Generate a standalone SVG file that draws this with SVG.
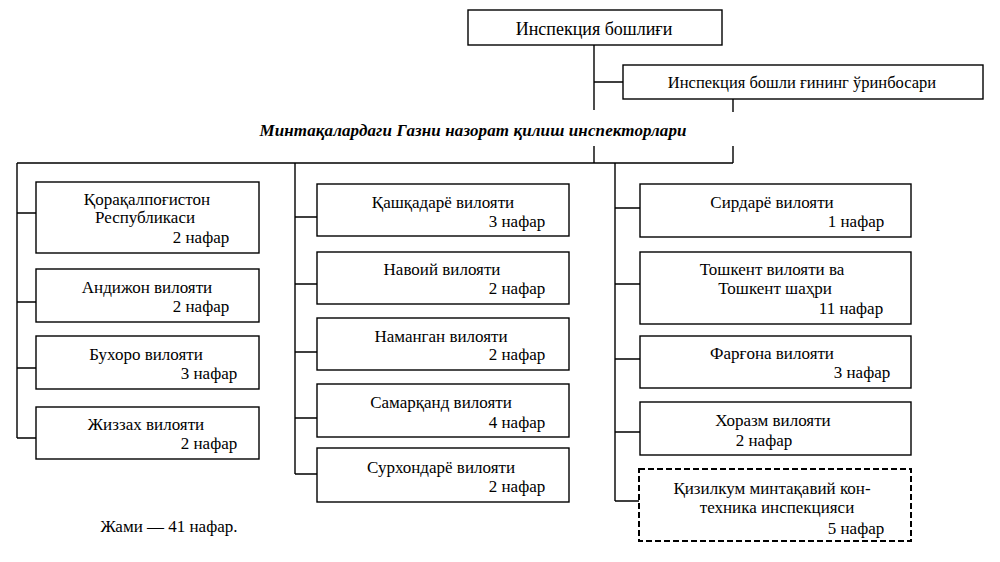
<svg xmlns="http://www.w3.org/2000/svg" width="1000" height="562" viewBox="0 0 1000 562">
<defs>
<style>
.box{fill:#fff;stroke:#000;stroke-width:1.4}
.dash{fill:#fff;stroke:#000;stroke-width:2;stroke-dasharray:6,3}
.ln{fill:none;stroke:#000;stroke-width:1.4}
</style>
</defs>
<rect width="1000" height="562" fill="#fff"/>
<g id="connectors">
<path class="ln" d="M594,45V110M594,146V163M594,82H623M733,99V112M733,146V163M17,163H733"/>
<path class="ln" d="M17,163V438M17,213H36M17,302H36M17,368H36M17,438H36"/>
<path class="ln" d="M295,163V474M295,217H317M295,284H317M295,352H317M295,418H317M295,474H317"/>
<path class="ln" d="M615,163V501M615,208H640M615,284H640M615,359H640M615,432H640M615,501H639"/>
</g>
<g font-family="'Liberation Serif', serif" font-size="17" text-anchor="middle" fill="#000">
<g id="head"><rect class="box" x="468" y="10" width="254" height="35"/><text x="594" y="35" font-size="18">Инспекция бошлиғи</text></g>
<g id="deputy"><rect class="box" x="623" y="65" width="360" height="34"/><text x="802" y="88" font-size="16.5">Инспекция бошли ғининг ўринбосари</text></g>
<g id="label"><text x="473" y="136" font-weight="bold" font-style="italic" textLength="427" lengthAdjust="spacing">Минтақалардаги Газни назорат қилиш инспекторлари</text></g>
<g id="qoraqalpoq"><rect class="box" x="36" y="182" width="223" height="71"/><text x="147" y="205">Қорақалпоғистон</text><text x="145" y="223">Республикаси</text><text x="201" y="243">2 нафар</text></g>
<g id="andijon"><rect class="box" x="36" y="269" width="223" height="53"/><text x="147" y="293">Андижон вилояти</text><text x="201" y="312">2 нафар</text></g>
<g id="buxoro"><rect class="box" x="36" y="336" width="223" height="53"/><text x="146" y="360">Бухоро вилояти</text><text x="209" y="379">3 нафар</text></g>
<g id="jizzax"><rect class="box" x="36" y="407" width="223" height="52"/><text x="146" y="430">Жиззах вилояти</text><text x="209" y="449">2 нафар</text></g>
<g id="qashqadaryo"><rect class="box" x="317" y="184" width="252" height="52"/><text x="443" y="208">Қашқадарё вилояти</text><text x="517" y="227">3 нафар</text></g>
<g id="navoiy"><rect class="box" x="317" y="252" width="252" height="52"/><text x="442" y="275">Навоий вилояти</text><text x="517" y="294">2 нафар</text></g>
<g id="namangan"><rect class="box" x="317" y="318" width="252" height="52"/><text x="441" y="342">Наманган вилояти</text><text x="517" y="360">2 нафар</text></g>
<g id="samarqand"><rect class="box" x="317" y="384" width="252" height="53"/><text x="441" y="408">Самарқанд вилояти</text><text x="517" y="428">4 нафар</text></g>
<g id="surxondaryo"><rect class="box" x="317" y="448" width="252" height="54"/><text x="441" y="473">Сурхондарё вилояти</text><text x="517" y="492">2 нафар</text></g>
<g id="sirdaryo"><rect class="box" x="640" y="184" width="271" height="53"/><text x="772" y="208">Сирдарё вилояти</text><text x="856" y="227">1 нафар</text></g>
<g id="toshkent"><rect class="box" x="640" y="252" width="271" height="72"/><text x="772" y="275">Тошкент вилояти ва</text><text x="775" y="294">Тошкент шаҳри</text><text x="851" y="314">11 нафар</text></g>
<g id="fargona"><rect class="box" x="640" y="336" width="271" height="52"/><text x="772" y="359">Фарғона вилояти</text><text x="862" y="378">3 нафар</text></g>
<g id="xorazm"><rect class="box" x="640" y="402" width="271" height="53"/><text x="773" y="426">Хоразм вилояти</text><text x="764" y="446">2 нафар</text></g>
<g id="qizilqum"><rect class="dash" x="639" y="469" width="272" height="72"/><text x="772" y="494">Қизилкум минтақавий кон-</text><text x="777" y="513">техника инспекцияси</text><text x="856" y="534">5 нафар</text></g>
<g id="total"><text x="169" y="532">Жами — 41 нафар.</text></g>
</g>
</svg>
